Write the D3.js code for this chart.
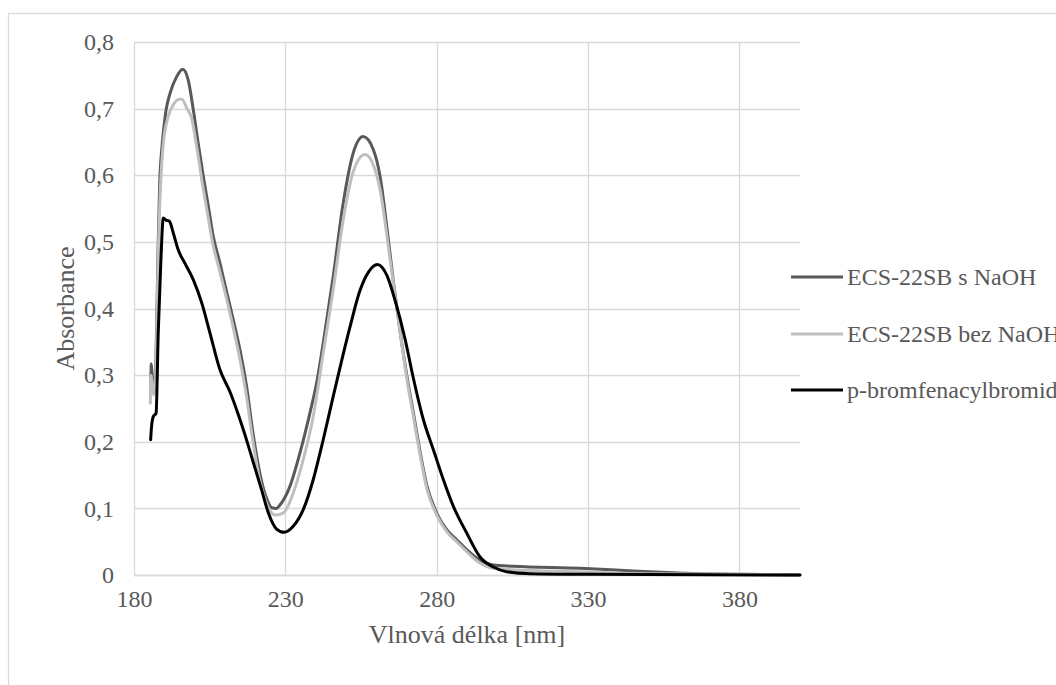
<!DOCTYPE html>
<html>
<head>
<meta charset="utf-8">
<script src="https://cdn.jsdelivr.net/npm/d3@7"></script>
<style>
html,body{margin:0;padding:0;background:#fff;overflow:hidden;}
svg{display:block;}
</style>
</head>
<body>
<svg id="chart" width="1056" height="685"></svg>
<script>
// ---- data ----
const seriesNames = ["ECS-22SB s NaOH", "ECS-22SB bez NaOH", "p-bromfenacylbromid"];
const seriesColors = ["#595959", "#bfbfbf", "#000000"];

const wlNaOH = [185.5,185.7,186.0,186.4,187.0,187.5,188.0,188.5,189.2,189.7,190.6,191.9,194.1,196.1,197.9,199.6,201.2,202.9,204.5,206.2,208.4,210.6,212.8,215.0,217.2,219.4,221.6,223.8,225.5,227.0,228.2,231.5,234.8,238.1,240.4,242.5,245.8,249.1,252.4,255.7,259.1,261.3,263.5,265.7,267.9,270.1,272.3,274.5,276.7,280.0,283.3,286.6,289.9,294.3,298.7,305.3,327.3,345,360,380,400];
const absNaOH = [0.275,0.317,0.300,0.280,0.290,0.380,0.500,0.590,0.640,0.665,0.698,0.723,0.748,0.759,0.743,0.698,0.648,0.598,0.555,0.508,0.468,0.425,0.383,0.338,0.283,0.210,0.152,0.115,0.101,0.100,0.105,0.133,0.183,0.243,0.290,0.348,0.448,0.558,0.633,0.658,0.638,0.598,0.523,0.440,0.365,0.300,0.243,0.185,0.135,0.093,0.068,0.053,0.038,0.022,0.015,0.013,0.010,0.006,0.003,0.001,0.0];

const wlBez = [185.4,185.6,186.0,186.5,187.0,187.5,188.0,188.8,189.7,191.3,193.0,195.0,195.8,197.5,199.0,200.7,202.5,204.3,206.0,208.2,210.4,212.6,214.8,217.0,219.2,221.4,223.6,225.0,226.6,229.3,232.6,235.9,239.2,242.5,245.8,249.1,252.4,256.3,259.1,261.3,264.6,267.9,270.1,272.3,274.5,276.7,280.0,283.3,286.6,289.9,294.3,298.7,305.3,327.3,350,380,400];
const absBez = [0.258,0.300,0.290,0.270,0.280,0.360,0.480,0.588,0.648,0.688,0.706,0.714,0.714,0.700,0.686,0.643,0.590,0.542,0.498,0.458,0.418,0.375,0.328,0.273,0.203,0.145,0.110,0.096,0.090,0.093,0.123,0.173,0.238,0.333,0.428,0.533,0.605,0.631,0.615,0.578,0.473,0.365,0.295,0.238,0.180,0.130,0.090,0.065,0.050,0.035,0.018,0.010,0.008,0.005,0.002,0.001,0.0];

const wlBrom = [185.5,185.8,186.4,187.3,188.0,188.8,189.7,190.5,191.7,193.0,194.6,196.8,199.6,202.4,205.1,208.4,211.7,214.5,217.5,220.0,222.2,224.4,227.1,229.6,232.6,235.9,239.2,242.5,245.5,248.5,251.5,254.5,257.5,260.4,263.5,266.5,269.5,272.3,275.6,278.9,282.2,285.5,289.9,294.3,298.7,303.1,310.8,330,400];
const absBrom = [0.203,0.223,0.238,0.243,0.363,0.463,0.536,0.533,0.531,0.513,0.488,0.468,0.443,0.408,0.363,0.308,0.275,0.240,0.198,0.160,0.127,0.093,0.069,0.064,0.073,0.098,0.143,0.203,0.262,0.320,0.375,0.425,0.455,0.466,0.450,0.408,0.355,0.295,0.233,0.188,0.143,0.103,0.063,0.027,0.012,0.005,0.002,0.001,0.0];

const xTicks = [180, 230, 280, 330, 380];
const yTicks = [0, 0.1, 0.2, 0.3, 0.4, 0.5, 0.6, 0.7, 0.8];
const xTitle = "Vlnová délka [nm]";
const yTitle = "Absorbance";

// ---- font pick: serif if installed, else a metric-close sans ----
function hasFont(f) {
  const c = document.createElement("canvas").getContext("2d");
  const s = "ECS-22SB bez NaOH mmmwwwiiil 0,123";
  c.font = "40px monospace"; const a = c.measureText(s).width;
  c.font = `40px "${f}", monospace`; const b = c.measureText(s).width;
  return Math.abs(a - b) > 0.5;
}
const serifs = ["Liberation Serif", "Times New Roman", "Tinos", "DejaVu Serif", "Noto Serif", "FreeSerif", "Nimbus Roman", "Nimbus Roman No9 L"];
let FONT = null;
for (const f of serifs) { if (hasFont(f)) { FONT = f; break; } }
const isSerif = FONT !== null;
if (!isSerif) FONT = "Liberation Sans";
const k = isSerif ? 1 : 0.905;   // scale sans so widths match Times metrics
const fsTick = 24 * k, fsLeg = 24 * k, fsTitle = 26 * k;

// ---- layout ----
const svg = d3.select("#chart").style("font-family", `"${FONT}", sans-serif`);
const mLeft = 134, mRight = 800, mTop = 42, mBottom = 575;
const TXT = "#595959";

const x = d3.scaleLinear().domain([180, 400]).range([mLeft, mRight]);
const y = d3.scaleLinear().domain([0, 0.8]).range([mBottom, mTop]);

// chart border (extends past the picture)
svg.append("rect").attr("x", 8.5).attr("y", 13.5).attr("width", 1200).attr("height", 800)
  .attr("fill", "none").attr("stroke", "#d9d9d9").attr("stroke-width", 1.3);

// gridlines
const grid = svg.append("g");
grid.selectAll("line.h").data(yTicks).join("line")
  .attr("x1", mLeft).attr("x2", mRight)
  .attr("y1", d => Math.round(y(d)) + 0.5).attr("y2", d => Math.round(y(d)) + 0.5)
  .attr("stroke", "#d9d9d9").attr("stroke-width", 1.3);
grid.selectAll("line.v").data(xTicks).join("line")
  .attr("y1", mTop).attr("y2", mBottom)
  .attr("x1", d => Math.round(x(d)) + 0.5).attr("x2", d => Math.round(x(d)) + 0.5)
  .attr("stroke", "#d9d9d9").attr("stroke-width", 1.3);

// axes (labels only)
const xAxis = d3.axisBottom(x).tickValues(xTicks).tickSize(0).tickPadding(15).tickFormat(d3.format("d"));
const gx = svg.append("g").attr("transform", `translate(0,${mBottom})`).call(xAxis);
gx.attr("font-family", null).attr("font-size", null);
gx.select(".domain").attr("stroke", "#d9d9d9").attr("stroke-width", 1.3);
gx.selectAll("text").attr("font-size", fsTick).attr("fill", TXT);

const yAxis = d3.axisLeft(y).tickValues(yTicks).tickSize(0).tickPadding(20)
  .tickFormat(d => d === 0 ? "0" : d3.format(".1f")(d).replace(".", ","));
const gy = svg.append("g").attr("transform", `translate(${mLeft},0)`).call(yAxis);
gy.attr("font-family", null).attr("font-size", null);
gy.select(".domain").remove();
gy.selectAll("text").attr("font-size", fsTick).attr("fill", TXT);

// axis titles
svg.append("text").attr("x", (mLeft + mRight) / 2).attr("y", 643).attr("text-anchor", "middle")
  .attr("font-size", fsTitle).attr("fill", TXT).text(xTitle);
svg.append("text").attr("transform", `translate(74,${(mTop + mBottom) / 2}) rotate(-90)`)
  .attr("text-anchor", "middle")
  .attr("font-size", fsTitle).attr("fill", TXT).text(yTitle);

// series
const series = [
  {wl: wlNaOH, ab: absNaOH},
  {wl: wlBez, ab: absBez},
  {wl: wlBrom, ab: absBrom}
];
const line = d3.line().x(d => x(d[0])).y(d => y(d[1])).curve(d3.curveMonotoneX);
series.forEach((s, i) => {
  const pts = s.wl.map((w, j) => [w, s.ab[j]]);
  svg.append("path").attr("d", line(pts)).attr("fill", "none")
    .attr("stroke", seriesColors[i]).attr("stroke-width", 3)
    .attr("stroke-linejoin", "round").attr("stroke-linecap", "round");
});

// legend
const legY = [277, 334, 390];
const leg = svg.append("g");
seriesNames.forEach((n, i) => {
  leg.append("line").attr("x1", 791).attr("x2", 843).attr("y1", legY[i]).attr("y2", legY[i])
    .attr("stroke", seriesColors[i]).attr("stroke-width", 3);
  leg.append("text").attr("x", 847).attr("y", legY[i] + 8)
    .attr("font-size", fsLeg).attr("fill", TXT).text(n);
});
</script>
</body>
</html>
